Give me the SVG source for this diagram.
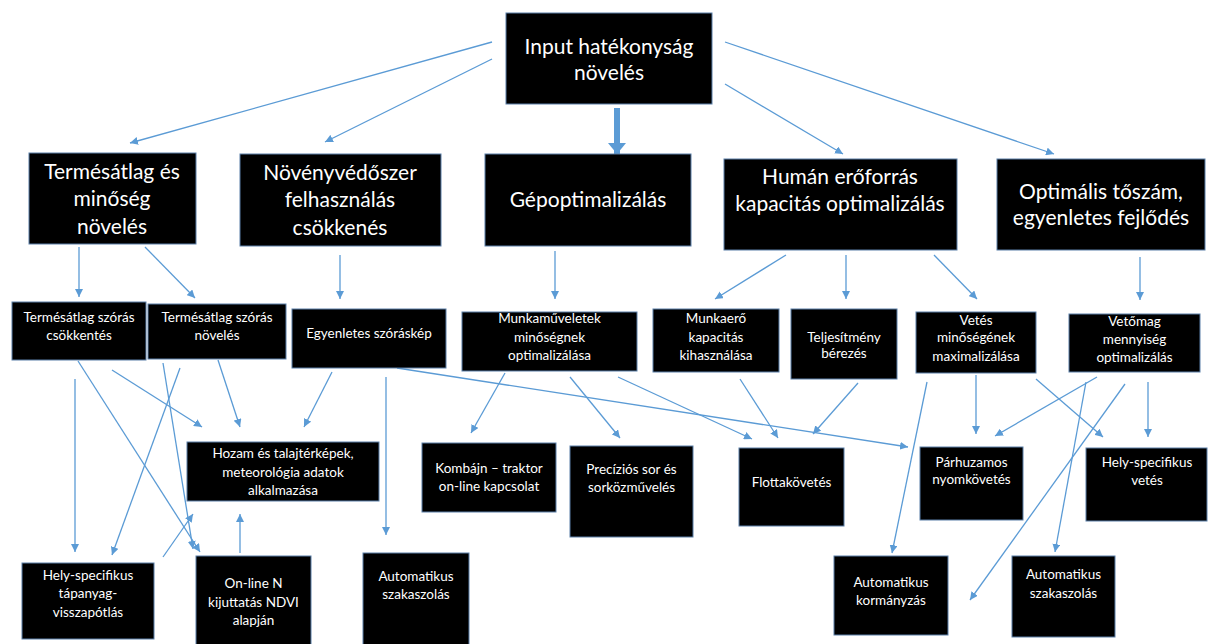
<svg xmlns="http://www.w3.org/2000/svg" width="1208" height="644" viewBox="0 0 1208 644">
<defs>
<style>
.box{fill:#000;stroke:#5a7fa8;stroke-width:1}
.t{fill:#fff;font-family:Lato,"Liberation Sans",sans-serif;text-anchor:middle}
.big{font-size:21px}
.sm{font-size:13.5px}
.c{stroke:#5b9bd5;stroke-width:1.3;fill:none;marker-end:url(#ah)}
.thick{stroke:#5b9bd5;stroke-width:6;fill:none;marker-end:url(#ahb)}
</style>
<marker id="ah" markerUnits="userSpaceOnUse" markerWidth="9" markerHeight="8" refX="8" refY="4" orient="auto">
<path d="M0,0 L8,4 L0,8 z" fill="#5b9bd5"/>
</marker>
<marker id="ahb" markerUnits="userSpaceOnUse" markerWidth="12" markerHeight="18" refX="11" refY="9" orient="auto">
<path d="M0,0 L11,9 L0,18 z" fill="#5b9bd5"/>
</marker>
</defs>
<rect width="1208" height="644" fill="#fff"/>
<g id="connectors">
<line class="c" x1="492" y1="42" x2="130" y2="143"/>
<line class="c" x1="492" y1="59" x2="325" y2="142"/>
<line class="thick" x1="617" y1="108" x2="617" y2="154"/>
<line class="c" x1="725" y1="84" x2="843" y2="154"/>
<line class="c" x1="725" y1="42" x2="1054" y2="154"/>
<line class="c" x1="79" y1="247" x2="79" y2="297"/>
<line class="c" x1="145" y1="247" x2="195" y2="298"/>
<line class="c" x1="340" y1="255" x2="340" y2="299"/>
<line class="c" x1="555" y1="251" x2="555" y2="299"/>
<line class="c" x1="786" y1="255" x2="715" y2="299"/>
<line class="c" x1="846" y1="255" x2="846" y2="299"/>
<line class="c" x1="934" y1="255" x2="977" y2="299"/>
<line class="c" x1="1140" y1="257" x2="1140" y2="300"/>
<line class="c" x1="75" y1="379" x2="75" y2="552"/>
<line class="c" x1="78" y1="361" x2="200" y2="552"/>
<line class="c" x1="112" y1="370" x2="202" y2="427"/>
<line class="c" x1="218" y1="360" x2="240" y2="427"/>
<line class="c" x1="332" y1="372" x2="304" y2="427"/>
<line class="c" x1="180" y1="368" x2="112" y2="555"/>
<line class="c" x1="163" y1="363" x2="193" y2="549"/>
<line class="c" x1="163" y1="557" x2="193" y2="514"/>
<line class="c" x1="240" y1="553" x2="240" y2="514"/>
<line class="c" x1="386" y1="377" x2="386" y2="535"/>
<line class="c" x1="397" y1="368" x2="908" y2="447"/>
<line class="c" x1="505" y1="373" x2="471" y2="433"/>
<line class="c" x1="570" y1="377" x2="620" y2="438"/>
<line class="c" x1="618" y1="377" x2="752" y2="439"/>
<line class="c" x1="740" y1="379" x2="778" y2="438"/>
<line class="c" x1="858" y1="383" x2="813" y2="434"/>
<line class="c" x1="976" y1="375" x2="976" y2="434"/>
<line class="c" x1="927" y1="382" x2="892" y2="553"/>
<line class="c" x1="1036" y1="379" x2="1103" y2="437"/>
<line class="c" x1="1097" y1="377" x2="995" y2="436"/>
<line class="c" x1="1086" y1="382" x2="1055" y2="552"/>
<line class="c" x1="1125" y1="384" x2="970" y2="600"/>
<line class="c" x1="1148" y1="382" x2="1148" y2="437"/>
</g>
<g id="n-input"><rect class="box" x="506" y="13" width="206" height="91"/>
<text class="t big" x="609" y="54">Input hatékonyság</text><text class="t big" x="609" y="80">növelés</text></g>
<g id="n-termesatlag"><rect class="box" x="29" y="153" width="167" height="91"/>
<text class="t big" x="112" y="179">Termésátlag és</text><text class="t big" x="112" y="206">minőség</text><text class="t big" x="112" y="234">növelés</text></g>
<g id="n-novenyvedo"><rect class="box" x="240" y="154" width="201" height="92"/>
<text class="t big" x="340" y="180">Növényvédőszer</text><text class="t big" x="340" y="207">felhasználás</text><text class="t big" x="340" y="235">csökkenés</text></g>
<g id="n-gep"><rect class="box" x="485" y="154" width="206" height="92"/>
<text class="t big" x="588" y="207">Gépoptimalizálás</text></g>
<g id="n-human"><rect class="box" x="724" y="159" width="233" height="91"/>
<text class="t big" x="840" y="184">Humán erőforrás</text><text class="t big" x="840" y="211">kapacitás optimalizálás</text></g>
<g id="n-optimalis"><rect class="box" x="997" y="159" width="208" height="91"/>
<text class="t big" x="1101" y="199">Optimális tőszám,</text><text class="t big" x="1101" y="225">egyenletes fejlődés</text></g>
<g id="n-csokkentes"><rect class="box" x="12" y="302" width="134" height="58"/>
<text class="t sm" x="79" y="321.5">Termésátlag szórás</text><text class="t sm" x="79" y="339.5">csökkentés</text></g>
<g id="n-noveles"><rect class="box" x="148" y="304" width="138" height="55"/>
<text class="t sm" x="217" y="321.5">Termésátlag szórás</text><text class="t sm" x="217" y="339.5">növelés</text></g>
<g id="n-egyenletes"><rect class="box" x="292" y="309" width="154" height="59"/>
<text class="t sm" x="369" y="337.5">Egyenletes szóráskép</text></g>
<g id="n-munkamuv"><rect class="box" x="462" y="312" width="175" height="59"/>
<text class="t sm" x="549.5" y="322.5">Munkaműveletek</text><text class="t sm" x="549.5" y="341.5">minőségnek</text><text class="t sm" x="549.5" y="359.5">optimalizálása</text></g>
<g id="n-munkaero"><rect class="box" x="653" y="309" width="126" height="63"/>
<text class="t sm" x="716" y="322.5">Munkaerő</text><text class="t sm" x="716" y="341.5">kapacitás</text><text class="t sm" x="716" y="359.5">kihasználása</text></g>
<g id="n-teljesitmeny"><rect class="box" x="791" y="309" width="106" height="70"/>
<text class="t sm" x="844" y="341.5">Teljesítmény</text><text class="t sm" x="844" y="357.5">bérezés</text></g>
<g id="n-vetes"><rect class="box" x="916" y="312" width="120" height="61"/>
<text class="t sm" x="976" y="324.5">Vetés</text><text class="t sm" x="976" y="341.5">minőségének</text><text class="t sm" x="976" y="360.5">maximalizálása</text></g>
<g id="n-vetomag"><rect class="box" x="1069" y="314" width="131" height="58"/>
<text class="t sm" x="1134.5" y="325.5">Vetőmag</text><text class="t sm" x="1134.5" y="343.5">mennyiség</text><text class="t sm" x="1134.5" y="361.5">optimalizálás</text></g>
<g id="n-hozam"><rect class="box" x="187" y="442" width="192" height="59"/>
<text class="t sm" x="283" y="457.5">Hozam és talajtérképek,</text><text class="t sm" x="283" y="476.5">meteorológia adatok</text><text class="t sm" x="283" y="494.5">alkalmazása</text></g>
<g id="n-kombajn"><rect class="box" x="422" y="443" width="134" height="69"/>
<text class="t sm" x="489" y="472.5">Kombájn – traktor</text><text class="t sm" x="489" y="490.5">on-line kapcsolat</text></g>
<g id="n-precizios"><rect class="box" x="570" y="446" width="123" height="91"/>
<text class="t sm" x="631.5" y="473.5">Precíziós sor és</text><text class="t sm" x="631.5" y="491.5">sorközművelés</text></g>
<g id="n-flotta"><rect class="box" x="739" y="448" width="105" height="78"/>
<text class="t sm" x="791.5" y="486.5">Flottakövetés</text></g>
<g id="n-parhuzamos"><rect class="box" x="920" y="447" width="103" height="73"/>
<text class="t sm" x="971.5" y="466.5">Párhuzamos</text><text class="t sm" x="971.5" y="483.5">nyomkövetés</text></g>
<g id="n-helyvetes"><rect class="box" x="1086" y="448" width="121" height="73"/>
<text class="t sm" x="1147" y="466.5">Hely-specifikus</text><text class="t sm" x="1147" y="484.5">vetés</text></g>
<g id="n-tapanyag"><rect class="box" x="22" y="563" width="132" height="76"/>
<text class="t sm" x="88" y="579.5">Hely-specifikus</text><text class="t sm" x="88" y="597.5">tápanyag-</text><text class="t sm" x="88" y="616.5">visszapótlás</text></g>
<g id="n-onlinen"><rect class="box" x="196" y="556" width="115" height="90"/>
<text class="t sm" x="253.5" y="587.5">On-line N</text><text class="t sm" x="253.5" y="606.5">kijuttatás NDVI</text><text class="t sm" x="253.5" y="624.5">alapján</text></g>
<g id="n-autoszak1"><rect class="box" x="363" y="553" width="106" height="92"/>
<text class="t sm" x="416" y="580.5">Automatikus</text><text class="t sm" x="416" y="598.5">szakaszolás</text></g>
<g id="n-autokorm"><rect class="box" x="834" y="556" width="114" height="79"/>
<text class="t sm" x="891" y="586.5">Automatikus</text><text class="t sm" x="891" y="604.5">kormányzás</text></g>
<g id="n-autoszak2"><rect class="box" x="1012" y="556" width="103" height="81"/>
<text class="t sm" x="1063.5" y="578.5">Automatikus</text><text class="t sm" x="1063.5" y="597.5">szakaszolás</text></g>
</svg>
